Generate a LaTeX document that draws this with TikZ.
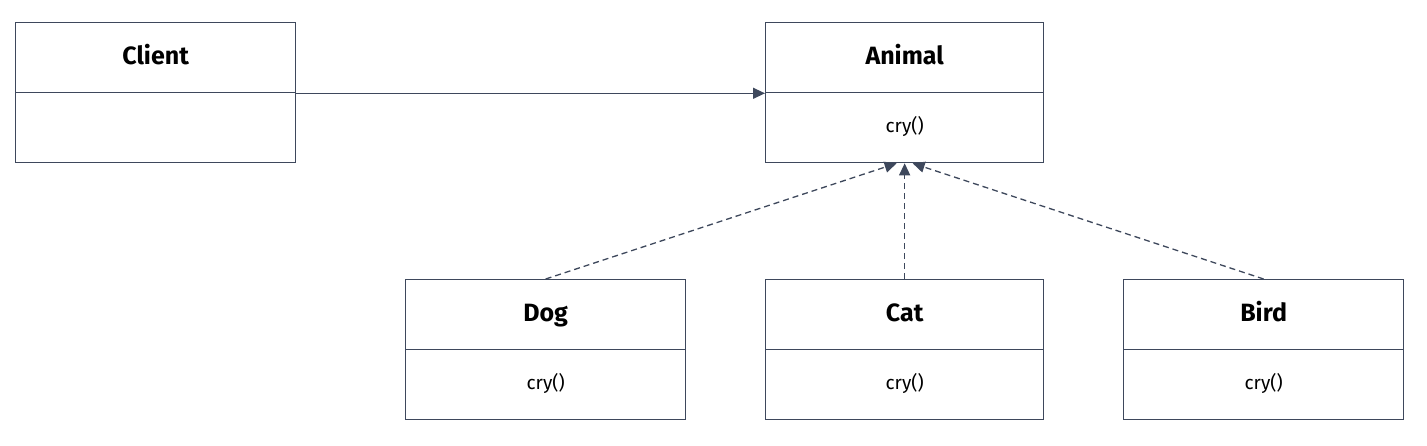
\documentclass[tikz,border=0pt]{standalone}
\usepackage{fontspec}
\setmainfont{Fira Sans}
\usetikzlibrary{arrows.meta}
\definecolor{edge}{RGB}{62,72,92}
\tikzset{
  cls/.style={draw=edge, line width=1.3pt, minimum width=280pt, minimum height=70pt, inner sep=0pt, anchor=north west},
  ttl/.style={font=\fontsize{25}{27}\selectfont\bfseries, text height=18pt, text depth=5pt, inner sep=0pt},
  mth/.style={font=\fontsize{19}{21}\selectfont, text height=14pt, text depth=4pt, inner sep=0pt},
  conn/.style={draw=edge, line width=1.3pt, -{Triangle[length=12pt,width=11pt]}},
  impl/.style={conn, dashed, dash pattern=on 6pt off 4pt}
}
\begin{document}
\begin{tikzpicture}[x=1pt,y=-1pt]
\useasboundingbox (0,0) rectangle (1427,445);
% Client
\node[cls] (clientT) at (15,22) {};
\node[cls] (clientB) at (15,92) {};
\node[ttl] (clientN) at (clientT.center) {Client};
% Animal
\node[cls, minimum width=278pt] (animalT) at (765,22) {};
\node[cls, minimum width=278pt] (animalB) at (765,92) {};
\node[ttl] (animalN) at (animalT.center) {Animal};
\node[mth] (animalM) at (animalB.center) {cry()};
% Dog
\node[cls] (dogT) at (405,279) {};
\node[cls] (dogB) at (405,349) {};
\node[ttl] (dogN) at (dogT.center) {Dog};
\node[mth] (dogM) at (dogB.center) {cry()};
% Cat
\node[cls, minimum width=278pt] (catT) at (765,279) {};
\node[cls, minimum width=278pt] (catB) at (765,349) {};
\node[ttl] (catN) at (catT.center) {Cat};
\node[mth] (catM) at (catB.center) {cry()};
% Bird
\node[cls] (birdT) at (1123,279) {};
\node[cls] (birdB) at (1123,349) {};
\node[ttl] (birdN) at (birdT.center) {Bird};
\node[mth] (birdM) at (birdB.center) {cry()};
% connectors
\draw[conn] (clientT.south east) -- (animalT.south west);
\coordinate (aL) at ([xshift=-8pt]animalB.south);
\coordinate (aR) at ([xshift=8pt]animalB.south);
\draw[impl] (dogT.north) -- (aL);
\draw[impl] (catT.north) -- (animalB.south);
\draw[impl] (birdT.north) -- (aR);
\end{tikzpicture}
\end{document}
